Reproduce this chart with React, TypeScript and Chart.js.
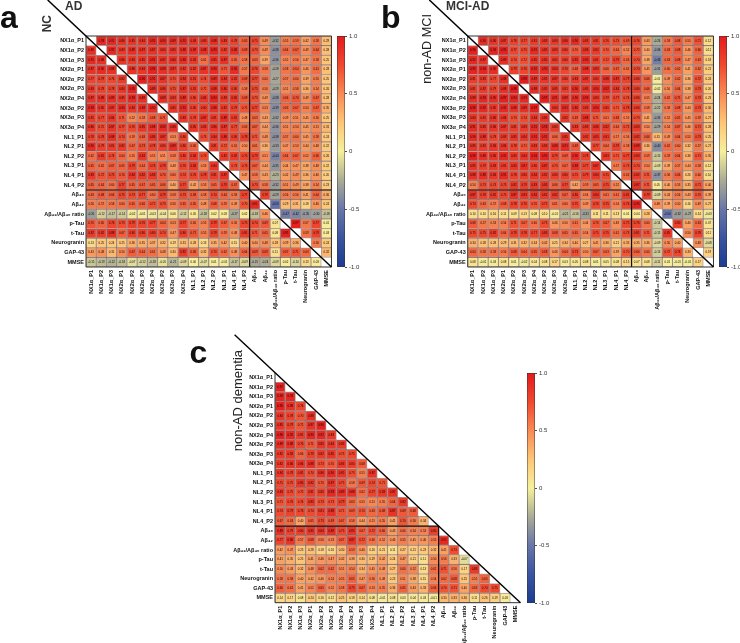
import React, { useEffect, useRef } from "react";
import { Chart, registerables } from "chart.js";

Chart.register(...registerables);

const variables = [
  "NX1α_P1", "NX1α_P2", "NX1α_P3", "NX2α_P1", "NX2α_P2", "NX2α_P3", "NX2α_P4", "NX3α_P2", "NX3α_P3", "NX3α_P4",
  "NL1_P1", "NL2_P1", "NL2_P2", "NL3_P1", "NL4_P1", "NL4_P2",
  "Aβ₄₀", "Aβ₄₂", "Aβ₄₂/Aβ₄₀ ratio", "p-Tau", "t-Tau", "Neurogranin", "GAP-43", "MMSE",
];

const colorbarTicks = ["-1.0", "-0.5", "0", "0.5", "1.0"];
const colorbarRange = [-1, 1];

const _ = null;

const panelA = [
  [_, .93, .91, .86, .85, .84, .91, .90, .89, .91, .84, .83, .88, .83, .78, .65, .75, .49, -.32, .55, .59, .42, .58, .29],
  [.89, _, .92, .83, .89, .87, .87, .84, .85, .88, .89, .88, .93, .82, .88, .69, .73, .49, -.38, .64, .67, .49, .64, .28],
  [.91, .88, _, .86, .83, .85, .91, .87, .86, .88, .83, .61, .85, .87, .65, .58, .63, .39, -.36, .52, .56, .47, .58, .25],
  [.87, .90, .88, _, .86, .84, .94, .88, .87, .82, .82, .87, .90, .71, .90, .57, .76, .58, -.28, .58, .64, .46, .61, .28],
  [.77, .79, .76, .82, _, .96, .91, .87, .75, .84, .81, .74, .89, .84, .81, .69, .77, .60, -.27, .57, .60, .39, .55, .25],
  [.83, .78, .78, .84, .95, _, .89, .86, .75, .87, .81, .72, .88, .86, .80, .58, .75, .56, -.29, .51, .58, .36, .54, .26],
  [.87, .88, .89, .85, .93, .89, _, .89, .83, .89, .80, .84, .94, .83, .85, .69, .73, .49, -.38, .66, .70, .49, .67, .28],
  [.93, .85, .87, .90, .84, .88, .90, _, .85, .91, .80, .80, .88, .82, .79, .71, .77, .53, -.39, .63, .67, .54, .67, .35],
  [.81, .77, .84, .71, .52, .58, .68, .71, _, .83, .78, .87, .81, .89, .81, .48, .63, .43, -.32, .49, .51, .45, .56, .25],
  [.86, .75, .87, .77, .76, .85, .88, .92, .88, _, .85, .83, .86, .87, .77, .63, .67, .44, -.36, .51, .54, .45, .51, .31],
  [.78, .78, .88, .74, .59, .68, .86, .87, .53, .80, _, .73, .84, .88, .80, .78, .71, .48, -.38, .57, .60, .45, .58, .24],
  [.90, .79, .81, .82, .67, .73, .78, .80, .89, .80, .66, _, .81, .72, .61, .50, .61, .36, -.33, .47, .53, .44, .48, .22],
  [.62, .81, .74, .64, .55, .84, .55, .51, .58, .80, .84, .73, _, .82, .82, .75, .79, .51, -.44, .64, .67, .52, .66, .26],
  [.65, .62, .67, .65, .79, .64, .76, .78, .48, .76, .84, .53, .84, _, .73, .73, .67, .44, -.35, .44, .47, .38, .48, .22],
  [.83, .72, .75, .70, .84, .82, .83, .70, .60, .74, .76, .78, .81, .87, _, .47, .58, .43, -.23, .42, .49, .36, .46, .20],
  [.65, .64, .60, .77, .65, .67, .65, .66, .40, .77, .42, .53, .65, .79, .67, _, .73, .58, -.32, .51, .49, .38, .54, .23],
  [.63, .68, .66, .75, .73, .77, .60, .79, .58, .73, .68, .58, .74, .64, .58, .77, _, .79, -.29, .56, .56, .41, .64, .36],
  [.56, .57, .58, .60, .65, .66, .72, .73, .56, .65, .65, .48, .68, .59, .49, .70, .91, _, -.53, .29, .31, .18, .46, .24],
  [-.31, -.12, -.17, -.14, -.02, -.01, -.03, -.04, .06, -.12, .05, -.18, .02, .03, -.27, .02, -.18, .46, _, -.47, -.42, -.35, -.30, -.18],
  [.70, .65, .76, .73, .79, .76, .77, .64, .53, .77, .60, .53, .79, .67, .56, .75, .74, .69, .07, _, .97, .57, .77, .01],
  [.82, .82, .88, .67, .80, .80, .80, .74, .47, .80, .71, .55, .79, .59, .48, .81, .71, .65, .08, .95, _, .59, .79, .03],
  [.13, .25, .24, .25, .36, .35, .37, .32, .19, .31, .28, .13, .35, .42, .15, .40, .44, .48, .28, .39, .36, _, .56, .24],
  [.43, .48, .31, .50, .67, .64, .61, .48, .30, .82, .66, .32, .70, .62, .48, .64, .69, .69, .11, .67, .71, .63, _, .32],
  [-.15, -.19, -.22, -.18, -.07, -.12, -.18, -.05, -.21, -.09, .00, -.07, .01, -.01, -.17, -.09, -.25, -.24, -.09, .02, -.10, .13, .03, _],
];

const panelB = [
  [_, .90, .86, .87, .78, .77, .81, .83, .83, .86, .90, .83, .81, .76, .73, .69, .76, .43, -.26, .58, .68, .55, .71, .12],
  [.96, _, .94, .95, .77, .75, .91, .85, .83, .80, .70, .86, .82, .70, .64, .52, .72, .40, -.36, .63, .68, .46, .66, .11],
  [.92, .87, _, .89, .74, .72, .85, .85, .82, .80, .85, .90, .81, .72, .79, .63, .74, .38, -.46, .63, .68, .47, .63, .18],
  [.95, .94, .90, _, .79, .76, .92, .90, .84, .76, .68, .88, .83, .66, .67, .61, .74, .45, -.31, .60, .62, .41, .62, .21],
  [.81, .83, .77, .88, _, .98, .89, .85, .87, .80, .83, .87, .82, .88, .87, .79, .80, .66, -.01, .49, .62, .36, .72, .24],
  [.81, .82, .79, .88, .98, _, .88, .85, .85, .81, .90, .85, .90, .92, .84, .78, .80, .66, -.02, .50, .64, .38, .73, .20],
  [.89, .93, .90, .97, .94, .93, _, .97, .91, .89, .90, .93, .83, .79, .77, .74, .80, .55, -.24, .62, .71, .47, .73, .23],
  [.96, .92, .85, .92, .88, .89, .97, _, .84, .91, .86, .83, .90, .80, .71, .78, .80, .58, -.22, .58, .68, .44, .73, .30],
  [.84, .81, .86, .84, .73, .74, .84, .85, _, .82, .69, .88, .71, .61, .68, .55, .73, .41, -.33, .52, .65, .45, .59, .27],
  [.91, .85, .86, .87, .81, .83, .91, .93, .83, _, .83, .83, .86, .82, .64, .72, .83, .50, -.29, .54, .67, .46, .71, .28],
  [.90, .88, .78, .83, .85, .84, .91, .91, .66, .85, _, .82, .85, .81, .57, .56, .82, .66, .31, .49, .64, .55, .73, .25],
  [.85, .81, .84, .84, .78, .71, .83, .83, .88, .91, .69, _, .77, .64, .79, .58, .89, .36, -.40, .62, .60, .32, .57, .27],
  [.96, .88, .86, .92, .83, .84, .94, .95, .79, .69, .90, .78, _, .83, .71, .77, .83, .59, -.15, .59, .64, .36, .71, .35],
  [.85, .79, .83, .81, .84, .87, .80, .87, .73, .67, .88, .77, .87, _, .57, .73, .74, .54, -.09, .39, .57, .44, .58, .12],
  [.88, .88, .84, .91, .78, .80, .84, .82, .80, .80, .75, .79, .84, .75, _, .62, .82, .71, -.37, .56, .66, .26, .60, .10],
  [.54, .73, .74, .75, .82, .79, .83, .83, .66, .77, .42, .59, .65, .75, .52, _, .87, .71, .05, .40, .53, .35, .71, .40],
  [.87, .78, .82, .75, .87, .83, .84, .82, .82, .67, .80, .54, .84, .61, .61, .81, _, .79, -.09, .43, .56, .43, .70, .39],
  [.74, .63, .57, .68, .78, .76, .70, .75, .61, .60, .75, .49, .76, .75, .54, .76, .95, _, .48, .39, .50, .16, .49, .27],
  [.10, .10, .16, .11, .09, .13, .08, .10, -.01, -.21, -.16, -.31, .11, .11, .13, .01, .04, .28, _, -.50, -.32, -.27, .14, -.03],
  [.68, .57, .53, .54, .71, .67, .60, .73, .46, .50, .61, .44, .70, .67, .48, .75, .76, .60, -.14, _, .80, .40, .63, .07],
  [.75, .75, .82, .64, .79, .78, .77, .83, .68, .65, .65, .54, .75, .75, .61, .73, .81, .71, -.15, .85, _, .50, .78, .11],
  [.34, .28, .28, .29, .31, .32, .34, .42, .25, .34, .40, .27, .41, .36, .21, .35, .35, .36, -.09, .50, .40, _, .48, -.08],
  [.64, .58, .58, .56, .68, .64, .65, .68, .46, .64, .73, .50, .67, .63, .39, .70, .66, .60, -.13, .72, .76, .33, _, .19],
  [.08, -.01, .03, .08, .01, -.02, .04, .08, .17, .03, .05, .08, .01, .05, .08, .15, .07, .08, -.11, .01, -.01, -.01, .17, _],
];

const panelC = [
  [],
  [.97],
  [.94, .93],
  [.96, .88, .76],
  [.84, .78, .70, .88],
  [.85, .79, .71, .87, .96],
  [.96, .92, .81, .93, .92, .83],
  [.89, .88, .76, .71, .85, .84, .83],
  [.82, .83, .66, .79, .82, .85, .73, .75],
  [.82, .86, .84, .88, .73, .70, .83, .80, .68],
  [.84, .78, .81, .74, .86, .90, .85, .73, .55, .87],
  [.75, .75, .85, .82, .70, .87, .75, .58, .69, .74, .71],
  [.84, .75, .72, .81, .80, .93, .89, .88, .62, .77, .83, .87],
  [.71, .76, .74, .83, .73, .73, .79, .63, .55, .51, .55, .64, .82],
  [.74, .79, .76, .74, .81, .88, .71, .69, .70, .63, .68, .87, .69, .68],
  [.67, .63, .40, .65, .73, .69, .67, .58, .44, .51, .55, .41, .70, .56, .34],
  [.88, .79, .80, .85, .84, .89, .75, .85, .67, .72, .66, .43, .60, .54, .53, .80],
  [.77, .86, .57, .68, .56, .53, .67, .87, .72, .60, .52, .46, .55, .45, .46, .55, .92],
  [.42, .47, .23, .28, .18, .16, .30, .59, .46, .20, .21, .11, .27, .21, .23, .32, .41, .73],
  [.41, .35, .25, .41, .46, .47, .42, .38, .30, .29, .42, .24, .47, .21, .11, .50, .56, .33, -.07],
  [.50, .43, .32, .48, .62, .62, .51, .54, .34, .45, .48, .27, .60, .52, .13, .61, .71, .56, .17, .83],
  [.58, .58, .40, .42, .46, .54, .55, .65, .47, .56, .48, .23, .51, .38, .15, .54, .62, .68, .25, .55, .65],
  [.66, .61, .41, .52, .65, .52, .58, .75, .67, .53, .55, .36, .65, .43, .33, .66, .70, .71, .40, .63, .74, .75],
  [.14, .17, .08, .24, .16, .12, .25, .18, .14, .08, -.01, .08, .03, .04, .03, -.01, .30, .33, .30, .11, .26, .19, .03],
];

const FONT = '"Liberation Sans", Arial, sans-serif';
const INK = "#111";

const STOPS: [number, number[]][] = [
  [-1, [28, 60, 146]],
  [-0.75, [58, 84, 160]],
  [-0.5, [104, 118, 168]],
  [-0.25, [170, 172, 150]],
  [0, [246, 240, 155]],
  [0.25, [253, 198, 118]],
  [0.5, [249, 138, 84]],
  [0.75, [240, 72, 46]],
  [1, [228, 26, 28]],
];

function colorOf(v: number) {
  for (let i = 1; i < STOPS.length; i++) {
    if (v <= STOPS[i][0]) {
      const [a, ca] = STOPS[i - 1];
      const [b, cb] = STOPS[i];
      const t = (v - a) / (b - a);
      const c = ca.map((x, k) => Math.round(x + (cb[k] - x) * t));
      return `rgb(${c[0]},${c[1]},${c[2]})`;
    }
  }
  return "rgb(228,26,28)";
}

// page layout: canvas box and plot rectangle in page pixels
const PANELS = [
  { rows: panelA, box: [0, 0, 336, 320], plot: [86, 36, 334.3, 267], start: -3.75, frame: true },
  { rows: panelB, box: [370, 0, 348, 320], plot: [467.7, 36, 716, 267], start: -3.75, frame: true },
  { rows: panelC, box: [190, 330, 335, 313], plot: [275, 372.7, 523, 602.7], start: -3.95, frame: false },
];
const BARS = [
  { x: 337.3, top: 36, bottom: 267 },
  { x: 719.3, top: 36, bottom: 267 },
  { x: 527.3, top: 372.7, bottom: 602.7 },
];

const LABELS: { text: string; x: number; y: number; size: number; weight: string; rotate?: boolean; color?: string }[] = [
  { text: "a", x: 0, y: 1, size: 32, weight: "700" },
  { text: "b", x: 381, y: 1, size: 32, weight: "700" },
  { text: "c", x: 189.5, y: 336, size: 32, weight: "700" },
  { text: "AD", x: 65, y: 0, size: 12, weight: "700", color: "#333" },
  { text: "MCI-AD", x: 446, y: 0, size: 12, weight: "700", color: "#333" },
  { text: "NC", x: 41, y: 15, size: 12, weight: "700", rotate: true, color: "#333" },
  { text: "non-AD MCI", x: 421, y: 14, size: 12.7, weight: "400", rotate: true, color: "#222" },
  { text: "non-AD dementia", x: 231, y: 350, size: 13, weight: "400", rotate: true, color: "#222" },
];

function buildHeat(canvas: HTMLCanvasElement, p: (typeof PANELS)[number]) {
  const [bx, by, bw, bh] = p.box;
  const [pl, pt, pr, pb] = p.plot;
  const n = variables.length;
  const tickFont = { family: FONT, size: 5.5, weight: "bold" as const };
  const cellPlugin = {
    id: "cellText",
    afterDatasetsDraw(chart: any) {
      const { ctx, scales } = chart;
      const x = scales.x;
      const y = scales.y;
      const w = (chart.chartArea.right - chart.chartArea.left) / n;
      const leftEdge = chart.chartArea.left;
      ctx.save();
      ctx.font = `2.9px ${FONT}`;
      ctx.fillStyle = "#100808";
      ctx.textAlign = "center";
      ctx.textBaseline = "middle";
      p.rows.forEach((row: (number | null)[], r: number) => {
        row.forEach((v, c) => {
          if (v == null) return;
          ctx.fillText(v.toFixed(2), x.getPixelForValue(c), y.getPixelForValue(r + 0.5));
        });
      });
      // group separators
      ctx.strokeStyle = "#111";
      ctx.lineWidth = 1.2;
      const gx = leftEdge + 16 * w;
      const gy = y.getPixelForValue(16);
      ctx.beginPath();
      ctx.moveTo(gx, p.frame ? y.getPixelForValue(0) : y.getPixelForValue(16));
      ctx.lineTo(gx, y.getPixelForValue(n));
      ctx.moveTo(leftEdge, gy);
      ctx.lineTo(p.frame ? leftEdge + n * w : gx, gy);
      ctx.stroke();
      // frame
      ctx.strokeStyle = "#333";
      ctx.lineWidth = 1;
      ctx.beginPath();
      if (p.frame) {
        ctx.rect(leftEdge, y.getPixelForValue(0), n * w, y.getPixelForValue(n) - y.getPixelForValue(0));
      } else {
        ctx.moveTo(leftEdge, y.getPixelForValue(0));
        ctx.lineTo(leftEdge, y.getPixelForValue(n));
        ctx.lineTo(leftEdge + n * w, y.getPixelForValue(n));
      }
      ctx.stroke();
      // diagonal
      ctx.strokeStyle = "#000";
      ctx.lineWidth = 1.4;
      ctx.beginPath();
      ctx.moveTo(leftEdge + p.start * w, y.getPixelForValue(p.start));
      ctx.lineTo(leftEdge + n * w, y.getPixelForValue(n));
      ctx.stroke();
      ctx.restore();
    },
  };

  return new Chart(canvas, {
    type: "bar",
    plugins: [cellPlugin],
    data: {
      labels: variables,
      datasets: p.rows.map((row: (number | null)[], r: number) => ({
        label: variables[r],
        data: variables.map((_v, c) => (row[c] == null ? null : [r, r + 1])) as any,
        backgroundColor: variables.map((_v, c) => (row[c] == null ? "rgba(0,0,0,0)" : colorOf(row[c] as number))),
        borderColor: "rgba(60,20,20,0.42)",
        borderWidth: 0.9,
        borderSkipped: false,
        barPercentage: 1,
        categoryPercentage: 1,
        grouped: false,
      })),
    },
    options: {
      responsive: false,
      animation: false,
      events: [],
      layout: { padding: { left: 0, top: pt - by, right: bx + bw - pr, bottom: 0 } },
      plugins: { legend: { display: false }, tooltip: { enabled: false }, title: { display: false } },
      scales: {
        x: {
          type: "category",
          offset: true,
          grid: { display: false, drawTicks: false },
          border: { display: false },
          afterFit: (s: any) => {
            s.height = by + bh - pb;
          },
          ticks: {
            autoSkip: false,
            minRotation: 90,
            maxRotation: 90,
            padding: 3,
            color: INK,
            font: tickFont,
          },
        },
        y: {
          type: "linear",
          min: 0,
          max: n,
          reverse: true,
          grid: { display: false, drawTicks: false },
          border: { display: false },
          afterBuildTicks: (s: any) => {
            s.ticks = variables.map((_v, i) => ({ value: i + 0.5 }));
          },
          afterFit: (s: any) => {
            s.width = pl - bx;
          },
          ticks: {
            autoSkip: false,
            padding: 2,
            color: INK,
            font: tickFont,
            callback: (v: any) => variables[Math.floor(Number(v))],
          },
        },
      },
    } as any,
  });
}

function buildBar(canvas: HTMLCanvasElement, b: (typeof BARS)[number]) {
  return new Chart(canvas, {
    type: "bar",
    data: {
      labels: ["r"],
      datasets: [
        {
          data: [colorbarRange] as any,
          borderColor: "#333",
          borderWidth: 0.8,
          borderSkipped: false,
          barPercentage: 1,
          categoryPercentage: 1,
          backgroundColor: (c: any) => {
            const area = c.chart.chartArea;
            if (!area) return "#fff";
            const g = c.chart.ctx.createLinearGradient(0, area.bottom, 0, area.top);
            STOPS.forEach(([v]) => g.addColorStop((v + 1) / 2, colorOf(v)));
            return g;
          },
        },
      ],
    },
    options: {
      responsive: false,
      animation: false,
      events: [],
      layout: { padding: { top: 10, bottom: 10, left: 0, right: 0 } },
      plugins: { legend: { display: false }, tooltip: { enabled: false } },
      scales: {
        x: { display: false, offset: true },
        y: {
          position: "right",
          min: colorbarRange[0],
          max: colorbarRange[1],
          grid: { drawOnChartArea: false, tickLength: 2, tickColor: "#222", tickWidth: 0.8 },
          border: { display: false },
          afterBuildTicks: (s: any) => {
            s.ticks = colorbarTicks.map((t) => ({ value: Number(t) }));
          },
          afterFit: (s: any) => {
            s.width = 24;
          },
          ticks: {
            autoSkip: false,
            padding: 2,
            color: "#333",
            font: { family: FONT, size: 6 },
            callback: (v: any) => colorbarTicks.find((t) => Number(t) === Number(v)),
          },
        },
      },
    } as any,
  });
}

export default function App() {
  const heatRefs = useRef<(HTMLCanvasElement | null)[]>([]);
  const barRefs = useRef<(HTMLCanvasElement | null)[]>([]);

  useEffect(() => {
    const charts = [
      ...PANELS.map((p, i) => buildHeat(heatRefs.current[i]!, p)),
      ...BARS.map((b, i) => buildBar(barRefs.current[i]!, b)),
    ];
    return () => charts.forEach((c) => c.destroy());
  }, []);

  return (
    <div style={{ position: "absolute", left: 0, top: 0, width: 740, height: 643, overflow: "hidden", background: "#fff", fontFamily: FONT }}>
      {PANELS.map((p, i) => (
        <canvas
          key={i}
          ref={(el) => {
            heatRefs.current[i] = el;
          }}
          width={p.box[2]}
          height={p.box[3]}
          style={{ position: "absolute", left: p.box[0], top: p.box[1], width: p.box[2], height: p.box[3] }}
        />
      ))}
      {BARS.map((b, i) => (
        <canvas
          key={i}
          ref={(el) => {
            barRefs.current[i] = el;
          }}
          width={32}
          height={b.bottom - b.top + 20}
          style={{ position: "absolute", left: b.x, top: b.top - 10, width: 32, height: b.bottom - b.top + 20 }}
        />
      ))}
      {LABELS.map((l) => (
        <div
          key={l.text}
          style={{
            position: "absolute",
            left: l.x,
            top: l.y,
            fontSize: l.size,
            fontWeight: l.weight as any,
            lineHeight: 1,
            whiteSpace: "nowrap",
            color: l.color ?? "#111",
            writingMode: l.rotate ? "vertical-rl" : undefined,
            transform: l.rotate ? "rotate(180deg)" : undefined,
          }}
        >
          {l.text}
        </div>
      ))}
    </div>
  );
}
